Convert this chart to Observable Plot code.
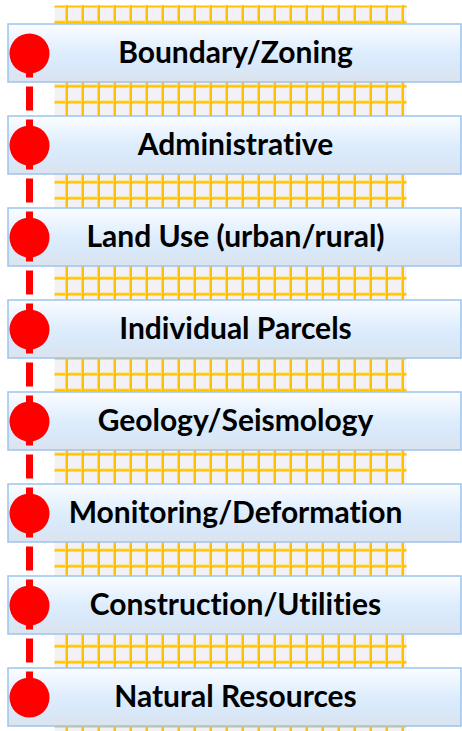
<!DOCTYPE html>
<html>
<head>
<meta charset="utf-8">
<script src="https://cdn.jsdelivr.net/npm/d3@7"></script>
<script src="https://cdn.jsdelivr.net/npm/@observablehq/plot@0.6"></script>
<style>
  html, body { margin: 0; padding: 0; background: #ffffff; }
  #chart svg { display: block; }
  #chart text { font-variant-ligatures: none; font-feature-settings: "liga" 0, "clig" 0; }
</style>
</head>
<body>
<div id="chart"></div>
<script>
// ---- data ----
const categories = [
  "Boundary/Zoning",
  "Administrative",
  "Land Use (urban/rural)",
  "Individual Parcels",
  "Geology/Seismology",
  "Monitoring/Deformation",
  "Construction/Utilities",
  "Natural Resources"
];
const links = d3.pairs(categories).map(([a, b]) => ({from: a, to: b}));
const gridColumns = d3.range(66, 406, 16);

// ---- layout / style ----
const W = 462, H = 731;
const boxLeft = 8, boxRight = 461, markerX = 29, labelX = 235;
const red = "#ff0000";

const svg = Plot.plot({
  width: W,
  height: H,
  marginTop: 5,
  marginBottom: 0,
  marginLeft: 54,
  marginRight: 56,
  x: {type: "linear", domain: [54, 406], axis: null},
  y: {type: "band", domain: categories, range: [21, 729], paddingInner: 0.375, paddingOuter: 0, axis: null},
  marks: [
    Plot.frame({fill: "#f2f1f6", stroke: null}),
    Plot.frame({fill: "url(#hgrid)", stroke: null}),
    Plot.ruleX(gridColumns, {stroke: "#ffd966", strokeWidth: 3}),
    Plot.ruleX(gridColumns, {stroke: "#ffc000", strokeWidth: 2, dx: 0.5}),
    Plot.barX(categories, {x1: boxLeft, x2: boxRight, y: d => d, fill: "url(#boxGrad)", stroke: "#9dc3ee", strokeWidth: 1.5}),
    Plot.link(links, {x1: markerX, x2: markerX, y1: "from", y2: "to", stroke: red, strokeWidth: 7, strokeDasharray: "24,9", strokeLinecap: "butt"}),
    Plot.dot(categories, {x: markerX, y: d => d, r: 20, fill: red, stroke: null}),
    Plot.text(categories, {x: labelX, y: d => d, text: d => d, fontSize: 30, fontWeight: "bold", fontFamily: "Lato, 'Open Sans', sans-serif", fill: "#000000"})
  ]
});

// gradient + horizontal grid pattern definitions
const defs = d3.select(svg).insert("defs", ":first-child");
const g = defs.append("linearGradient").attr("id", "boxGrad").attr("x1", 0).attr("y1", 0).attr("x2", 0).attr("y2", 1);
g.append("stop").attr("offset", "0").attr("stop-color", "#fbfdff");
g.append("stop").attr("offset", "0.45").attr("stop-color", "#e0eefd");
g.append("stop").attr("offset", "0.7").attr("stop-color", "#d8e9fb");
g.append("stop").attr("offset", "1").attr("stop-color", "#dce3ed");
const p = defs.append("pattern").attr("id", "hgrid").attr("patternUnits", "userSpaceOnUse")
  .attr("x", 0).attr("y", 0).attr("width", 16).attr("height", 16);
p.append("rect").attr("x", 0).attr("y", 4).attr("width", 16).attr("height", 1).attr("fill", "#ffd966");
p.append("rect").attr("x", 0).attr("y", 5).attr("width", 16).attr("height", 2).attr("fill", "#ffc000");

document.getElementById("chart").appendChild(svg);
</script>
</body>
</html>
